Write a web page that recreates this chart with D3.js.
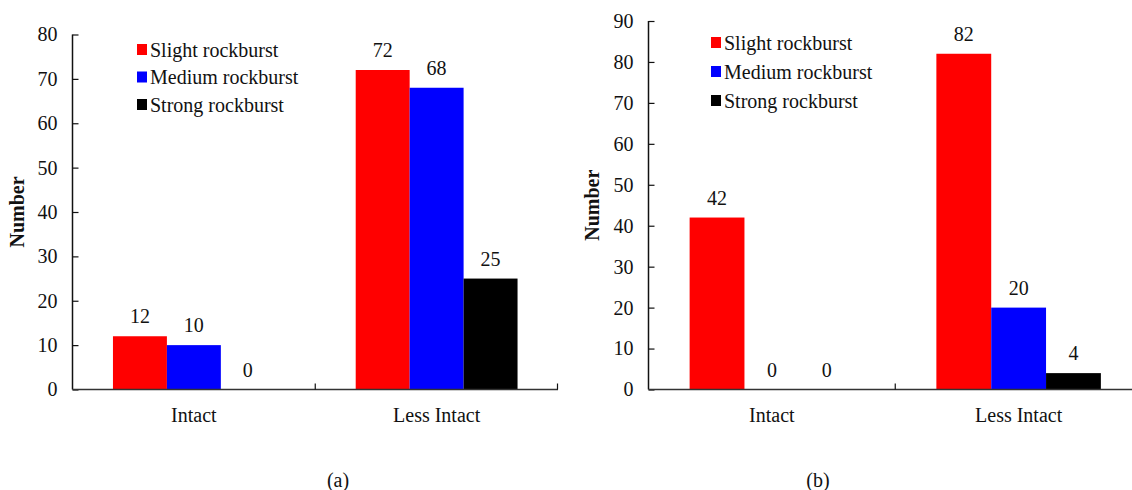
<!DOCTYPE html>
<html>
<head>
<meta charset="utf-8">
<script src="https://cdn.jsdelivr.net/npm/d3@7"></script>
<style>
  html, body { margin: 0; padding: 0; background: #fff; }
</style>
</head>
<body>
<svg id="chart" width="1132" height="490" font-family="Liberation Serif"></svg>
<script>
// Rock mass integrity categories and rockburst intensity counts
const categories = ["Intact", "Less Intact"];
const seriesNames = ["Slight rockburst", "Medium rockburst", "Strong rockburst"];
const seriesColors = ["#ff0000", "#0000ff", "#000000"];

// Panel (a)
const slightA = [12, 72];
const mediumA = [10, 68];
const strongA = [0, 25];
const ticksA = [0, 10, 20, 30, 40, 50, 60, 70, 80];

// Panel (b)
const slightB = [42, 82];
const mediumB = [0, 20];
const strongB = [0, 4];
const ticksB = [0, 10, 20, 30, 40, 50, 60, 70, 80, 90];

const FONT = "Liberation Serif";
const FS = 20;
const svg = d3.select("#chart");

function label(sel) {
  return sel.attr("font-family", FONT).attr("font-size", FS).attr("fill", "#111");
}

function drawPanel(cfg) {
  const g = svg.append("g");
  const x = d3.scaleBand().domain(categories).range([cfg.x0, cfg.x1]).paddingInner(0).paddingOuter(0);
  const inner = d3.scaleBand().domain(seriesNames).range([0, x.bandwidth() * 2 / 3]);
  const y = d3.scaleLinear().domain([0, cfg.ymax]).range([cfg.y0, cfg.y1]);
  const offset = x.bandwidth() / 6;

  const rows = categories.map((c, i) => ({
    cat: c,
    vals: cfg.series.map((s, k) => ({ name: seriesNames[k], value: s[i], color: seriesColors[k] }))
  }));

  const groups = g.selectAll("g.grp").data(rows).join("g")
    .attr("transform", d => `translate(${x(d.cat) + offset},0)`);

  groups.selectAll("rect").data(d => d.vals).join("rect")
    .attr("x", d => inner(d.name))
    .attr("width", inner.bandwidth())
    .attr("y", d => y(d.value))
    .attr("height", d => y(0) - y(d.value))
    .attr("fill", d => d.color);

  groups.selectAll("text").data(d => d.vals).join("text")
    .attr("x", d => inner(d.name) + inner.bandwidth() / 2)
    .attr("y", d => y(d.value) - 13)
    .attr("text-anchor", "middle")
    .call(label)
    .text(d => d.value);

  // y axis with inward ticks
  const yAxis = d3.axisLeft(y).tickValues(cfg.ticks).tickSize(-6).tickPadding(15).tickFormat(d3.format("d"));
  const ya = g.append("g").attr("transform", `translate(${cfg.x0},0)`).call(yAxis)
    .attr("font-family", FONT).attr("font-size", FS);
  ya.select(".domain").attr("stroke", "#111").attr("stroke-width", 1.5).attr("d", `M0,${cfg.y0}V${cfg.y1}`);
  ya.selectAll(".tick line").attr("stroke", "#111").attr("stroke-width", 1.2);
  ya.selectAll(".tick text").call(label);

  // x axis with a single upward tick between categories
  const xa = g.append("g").attr("transform", `translate(0,${cfg.y0})`);
  xa.append("line").attr("x1", cfg.x0).attr("x2", cfg.x1).attr("stroke", "#333").attr("stroke-width", 1.5);
  xa.selectAll("line.sep").data(categories.slice(1)).join("line")
    .attr("x1", d => x(d)).attr("x2", d => x(d)).attr("y1", 0).attr("y2", -6)
    .attr("stroke", "#111").attr("stroke-width", 1.2);
  xa.append("line").attr("x1", cfg.x1 - 0.5).attr("x2", cfg.x1 - 0.5).attr("y1", 0).attr("y2", -6)
    .attr("stroke", "#111").attr("stroke-width", 1.2);
  xa.selectAll("text.cat").data(categories).join("text")
    .attr("x", d => x(d) + x.bandwidth() / 2)
    .attr("y", 32)
    .attr("text-anchor", "middle")
    .call(label)
    .text(d => d);

  // axis title
  g.append("text")
    .attr("transform", `translate(${cfg.titleX},${(cfg.y0 + cfg.y1) / 2}) rotate(-90)`)
    .attr("text-anchor", "middle")
    .call(label)
    .attr("font-weight", "bold")
    .text("Number");

  // legend
  const lg = g.append("g").attr("transform", `translate(${cfg.legX},${cfg.legY})`);
  const items = lg.selectAll("g").data(seriesNames).join("g")
    .attr("transform", (d, i) => `translate(0,${i * cfg.legStep})`);
  items.append("rect").attr("x", 0).attr("y", -6).attr("width", 10).attr("height", 11)
    .attr("fill", (d, i) => seriesColors[i]);
  items.append("text").attr("x", 13).attr("y", 6.5).call(label).text(d => d);

  // panel caption
  g.append("text").attr("x", cfg.capX).attr("y", 487).attr("text-anchor", "middle")
    .call(label).text(cfg.caption);
}

drawPanel({
  series: [slightA, mediumA, strongA], ymax: 80, ticks: ticksA,
  x0: 72.5, x1: 558, y0: 389.5, y1: 34.5, titleX: 24,
  legX: 137, legY: 50, legStep: 27.5, capX: 338, caption: "(a)"
});

drawPanel({
  series: [slightB, mediumB, strongB], ymax: 90, ticks: ticksB,
  x0: 648.5, x1: 1142, y0: 389.5, y1: 21, titleX: 599,
  legX: 711, legY: 43, legStep: 29, capX: 818, caption: "(b)"
});
</script>
</body>
</html>
